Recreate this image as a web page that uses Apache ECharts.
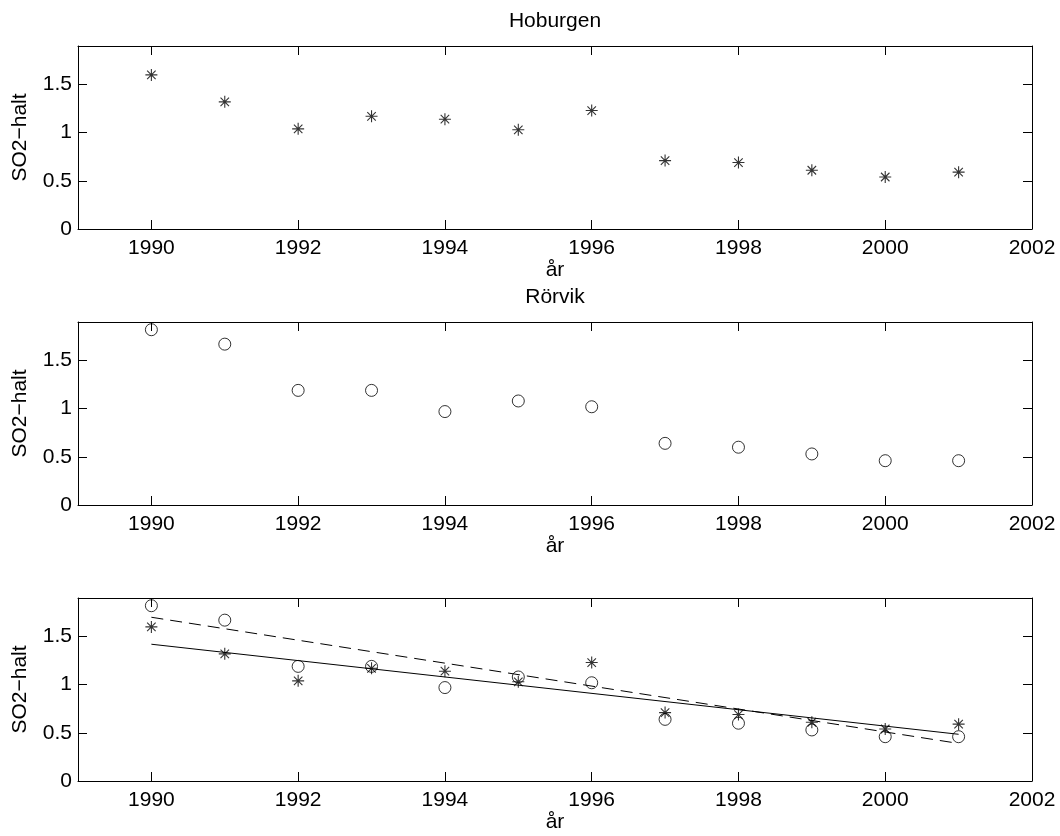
<!DOCTYPE html>
<html>
<head>
<meta charset="utf-8">
<title>SO2-halt</title>
<script src="https://cdn.jsdelivr.net/npm/echarts@6/dist/echarts.min.js"></script>
<style>
  html, body { margin: 0; padding: 0; background: #fff; }
  #chart { width: 1060px; height: 836px; }
</style>
</head>
<body>
<div id="chart"></div>
<script>
// Annual SO2 levels at two stations
const years = [1990, 1991, 1992, 1993, 1994, 1995, 1996, 1997, 1998, 1999, 2000, 2001];
const hoburgen = [1.60, 1.32, 1.04, 1.17, 1.14, 1.03, 1.23, 0.71, 0.69, 0.61, 0.54, 0.59];
const rorvik = [1.82, 1.67, 1.19, 1.19, 0.97, 1.08, 1.02, 0.64, 0.60, 0.53, 0.46, 0.46];

// Trend lines (start and end values)
const fitYears = [1990, 2001];
const hoburgenFit = [1.42, 0.485];
const rorvikFit = [1.70, 0.39];

// Axis ticks
const xTicks = [1990, 1992, 1994, 1996, 1998, 2000, 2002];
const yTicks = [0, 0.5, 1, 1.5];
const titles = ['Hoburgen', 'Rörvik', ''];

const FONT = 'Liberation Sans, Arial, Helvetica, sans-serif';
const FS = 21;
const ASTERISK = 'path://M0,5L10,5M5,0L5,10M1.46,1.46L8.54,8.54M8.54,1.46L1.46,8.54';

const gridLeft = 78, gridRight = 28, gridHeight = 183;
const gridTops = [46, 322, 598];

const pair = (xs, ys) => xs.map((x, i) => [x, ys[i]]);

const grids = [], xAxes = [], yAxes = [], series = [], title = [];

const lineStyle = { color: '#000', width: 1 };

gridTops.forEach((top, g) => {
  grids.push({ left: gridLeft, right: gridRight, top: top, height: gridHeight, outerBoundsMode: 'none' });
  if (titles[g]) {
    title.push({
      text: titles[g], left: 555, top: top - 35, textAlign: 'center', padding: 0,
      textStyle: { fontFamily: FONT, fontSize: FS, fontWeight: 'normal', color: '#000' }
    });
  }
  // bottom x axis
  xAxes.push({
    type: 'value', gridIndex: g, position: 'bottom', min: 1989, max: 2002,
    name: 'år', nameLocation: 'middle', nameGap: 31,
    nameTextStyle: { fontFamily: FONT, fontSize: FS, color: '#000' },
    axisLine: { show: true, onZero: false, lineStyle },
    axisTick: { show: true, inside: true, length: 9, customValues: xTicks, lineStyle },
    axisLabel: {
      show: true, margin: 9, customValues: xTicks, formatter: (v) => String(v),
      fontFamily: FONT, fontSize: FS, color: '#000'
    },
    splitLine: { show: false }
  });
  // top x axis (ticks only)
  xAxes.push({
    type: 'value', gridIndex: g, position: 'top', min: 1989, max: 2002,
    axisLine: { show: true, onZero: false, lineStyle },
    axisTick: { show: true, inside: true, length: 9, customValues: xTicks, lineStyle },
    axisLabel: { show: false },
    splitLine: { show: false }
  });
  // left y axis
  yAxes.push({
    type: 'value', gridIndex: g, position: 'left', min: 0, max: 1.9,
    name: 'SO2−halt', nameLocation: 'middle', nameGap: 47, nameRotate: 90,
    nameTextStyle: { fontFamily: FONT, fontSize: FS, color: '#000' },
    axisLine: { show: true, onZero: false, lineStyle },
    axisTick: { show: true, inside: true, length: 9, customValues: yTicks, lineStyle },
    axisLabel: {
      show: true, margin: 6, customValues: yTicks, formatter: (v) => String(v),
      fontFamily: FONT, fontSize: FS, color: '#000'
    },
    splitLine: { show: false }
  });
  // right y axis (ticks only)
  yAxes.push({
    type: 'value', gridIndex: g, position: 'right', min: 0, max: 1.9,
    axisLine: { show: true, onZero: false, lineStyle },
    axisTick: { show: true, inside: true, length: 9, customValues: yTicks, lineStyle },
    axisLabel: { show: false },
    splitLine: { show: false }
  });
});

const starSeries = (g, name) => ({
  type: 'scatter', name, xAxisIndex: g * 2, yAxisIndex: g * 2,
  data: pair(years, hoburgen),
  symbol: ASTERISK, symbolSize: 12,
  itemStyle: { color: 'transparent', borderColor: '#000', borderWidth: 1.1 },
  emphasis: { disabled: true }, silent: true, z: 3
});
const circleSeries = (g, name) => ({
  type: 'scatter', name, xAxisIndex: g * 2, yAxisIndex: g * 2,
  data: pair(years, rorvik),
  symbol: 'circle', symbolSize: 12,
  itemStyle: { color: 'transparent', borderColor: '#000', borderWidth: 1 },
  emphasis: { disabled: true }, silent: true, z: 3
});

series.push(starSeries(0, 'Hoburgen'));
series.push(circleSeries(1, 'Rörvik'));
series.push(starSeries(2, 'Hoburgen'));
series.push(circleSeries(2, 'Rörvik'));
series.push({
  type: 'line', name: 'Hoburgen trend', xAxisIndex: 4, yAxisIndex: 4,
  data: pair(fitYears, hoburgenFit), showSymbol: false, symbol: 'none',
  lineStyle: { color: '#000', width: 1, type: 'solid' }, silent: true, z: 2
});
series.push({
  type: 'line', name: 'Rörvik trend', xAxisIndex: 4, yAxisIndex: 4,
  data: pair(fitYears, rorvikFit), showSymbol: false, symbol: 'none',
  lineStyle: { color: '#000', width: 1, type: [12, 7] }, silent: true, z: 2
});

const chart = echarts.init(document.getElementById('chart'), null, { renderer: 'canvas' });
chart.setOption({
  backgroundColor: '#fff',
  animation: false,
  title,
  grid: grids,
  xAxis: xAxes,
  yAxis: yAxes,
  series
});
</script>
</body>
</html>
